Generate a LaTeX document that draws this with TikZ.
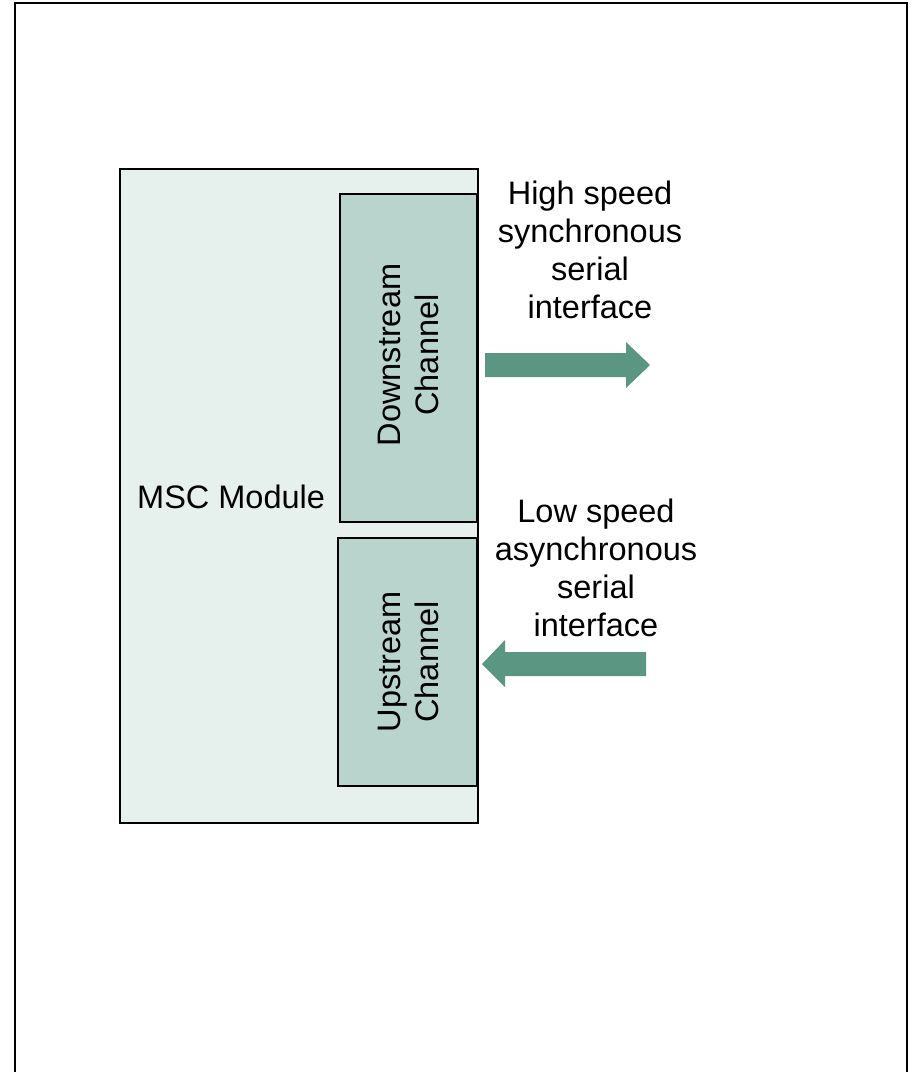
\documentclass[tikz,border=0pt]{standalone}
\usepackage{fontspec}
\setmainfont{Liberation Sans}
\definecolor{modfill}{HTML}{E6F0EC}
\definecolor{chanfill}{HTML}{B8D4CC}
\definecolor{arrowfill}{HTML}{5A9682}
\begin{document}
\begin{tikzpicture}[x=1pt,y=-1pt,
  lbl/.style={font=\fontsize{32.5}{38}\selectfont, inner sep=0pt, align=center},
  chanbox/.style={draw=black, line width=1.5pt, fill=chanfill},
  modbox/.style={draw=black, line width=2pt, fill=modfill},
  bigarrow/.style={fill=arrowfill, draw=none}]
\useasboundingbox (0,0) rectangle (912,1072);
\begin{scope}
\clip (0,0) rectangle (912,1072);
\draw[line width=2pt] (15,3) rectangle (907,1090);
\end{scope}
% module
\draw[modbox] (120,169) rectangle (478,823);
\coordinate (modc) at (299,496);
\node[lbl, anchor=base west] (msc) at (137,508) {MSC Module};
% channels
\draw[chanbox] (340,194) rectangle (477,522);
\draw[chanbox] (338,538) rectangle (477,786);
\node[lbl, rotate=90] (down) at (408.5,355) {Downstream\\Channel};
\node[lbl, rotate=90] (up) at (408.5,662) {Upstream\\Channel};
% arrows
\fill[bigarrow] (485,353) -- (626,353) -- (626,342) -- (650,365) -- (626,388) -- (626,377) -- (485,377) -- cycle;
\fill[bigarrow] (646,652) -- (505,652) -- (505,640) -- (482,664) -- (505,687) -- (505,676) -- (646,676) -- cycle;
% labels
\node[lbl] (hs) at (590,250) {High speed\\synchronous\\serial\\interface};
\node[lbl] (ls) at (596,568) {Low speed\\asynchronous\\serial\\interface};
\end{tikzpicture}
\end{document}
